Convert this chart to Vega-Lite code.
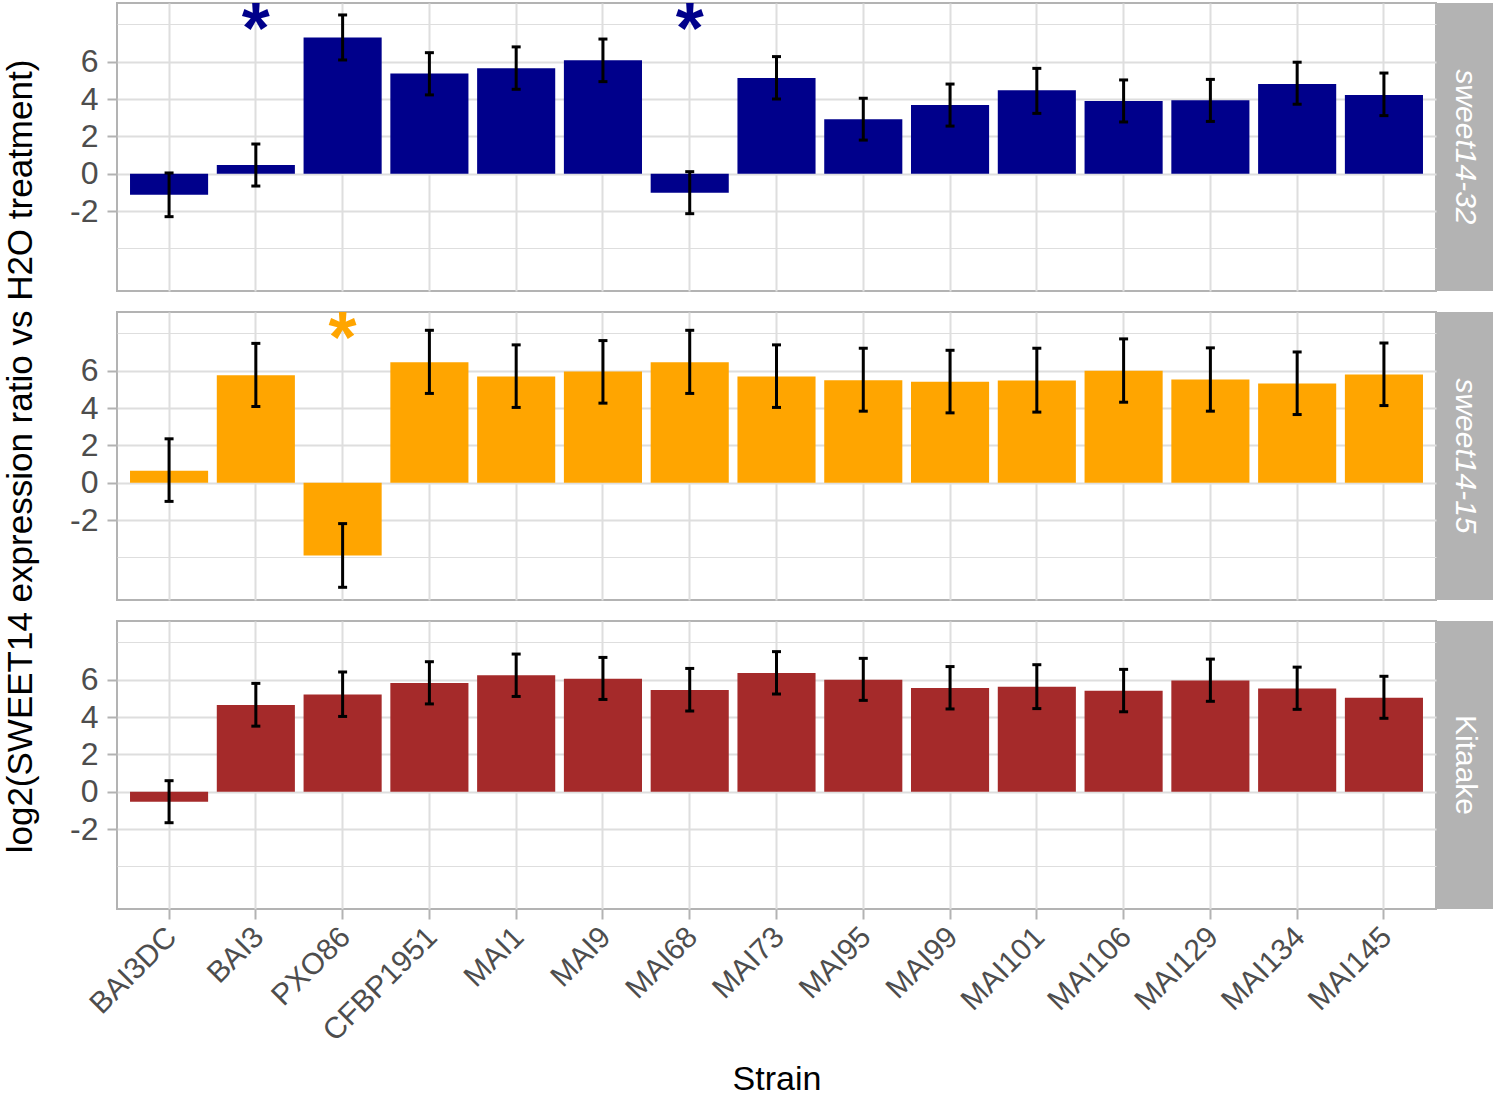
{
  "$schema": "https://vega.github.io/schema/vega-lite/v6.json",
  "padding": {"left": 2, "top": 2, "right": 4, "bottom": 4},
  "background": "white",
  "datasets": {
    "bars": [
      {"line": "sweet14-32", "strain": "BAI3DC", "value": -1.13, "lower": -2.30, "upper": 0.04},
      {"line": "sweet14-32", "strain": "BAI3", "value": 0.46, "lower": -0.66, "upper": 1.59},
      {"line": "sweet14-32", "strain": "PXO86", "value": 7.29, "lower": 6.09, "upper": 8.50},
      {"line": "sweet14-32", "strain": "CFBP1951", "value": 5.36, "lower": 4.22, "upper": 6.48},
      {"line": "sweet14-32", "strain": "MAI1", "value": 5.64, "lower": 4.52, "upper": 6.79},
      {"line": "sweet14-32", "strain": "MAI9", "value": 6.07, "lower": 4.93, "upper": 7.21},
      {"line": "sweet14-32", "strain": "MAI68", "value": -1.02, "lower": -2.14, "upper": 0.11},
      {"line": "sweet14-32", "strain": "MAI73", "value": 5.13, "lower": 4.00, "upper": 6.27},
      {"line": "sweet14-32", "strain": "MAI95", "value": 2.91, "lower": 1.80, "upper": 4.04},
      {"line": "sweet14-32", "strain": "MAI99", "value": 3.68, "lower": 2.55, "upper": 4.80},
      {"line": "sweet14-32", "strain": "MAI101", "value": 4.47, "lower": 3.23, "upper": 5.64},
      {"line": "sweet14-32", "strain": "MAI106", "value": 3.89, "lower": 2.77, "upper": 5.02},
      {"line": "sweet14-32", "strain": "MAI129", "value": 3.93, "lower": 2.80, "upper": 5.05},
      {"line": "sweet14-32", "strain": "MAI134", "value": 4.80, "lower": 3.72, "upper": 5.97},
      {"line": "sweet14-32", "strain": "MAI145", "value": 4.22, "lower": 3.11, "upper": 5.39},
      {"line": "sweet14-15", "strain": "BAI3DC", "value": 0.64, "lower": -1.00, "upper": 2.35},
      {"line": "sweet14-15", "strain": "BAI3", "value": 5.75, "lower": 4.08, "upper": 7.46},
      {"line": "sweet14-15", "strain": "PXO86", "value": -3.90, "lower": -5.60, "upper": -2.19},
      {"line": "sweet14-15", "strain": "CFBP1951", "value": 6.45, "lower": 4.78, "upper": 8.16},
      {"line": "sweet14-15", "strain": "MAI1", "value": 5.68, "lower": 4.03, "upper": 7.38},
      {"line": "sweet14-15", "strain": "MAI9", "value": 5.95, "lower": 4.26, "upper": 7.61},
      {"line": "sweet14-15", "strain": "MAI68", "value": 6.45, "lower": 4.78, "upper": 8.16},
      {"line": "sweet14-15", "strain": "MAI73", "value": 5.68, "lower": 4.03, "upper": 7.38},
      {"line": "sweet14-15", "strain": "MAI95", "value": 5.49, "lower": 3.83, "upper": 7.20},
      {"line": "sweet14-15", "strain": "MAI99", "value": 5.40, "lower": 3.74, "upper": 7.09},
      {"line": "sweet14-15", "strain": "MAI101", "value": 5.47, "lower": 3.78, "upper": 7.20},
      {"line": "sweet14-15", "strain": "MAI106", "value": 6.00, "lower": 4.31, "upper": 7.70},
      {"line": "sweet14-15", "strain": "MAI129", "value": 5.52, "lower": 3.83, "upper": 7.22},
      {"line": "sweet14-15", "strain": "MAI134", "value": 5.31, "lower": 3.65, "upper": 7.00},
      {"line": "sweet14-15", "strain": "MAI145", "value": 5.79, "lower": 4.13, "upper": 7.48},
      {"line": "Kitaake", "strain": "BAI3DC", "value": -0.54, "lower": -1.66, "upper": 0.59},
      {"line": "Kitaake", "strain": "BAI3", "value": 4.64, "lower": 3.51, "upper": 5.80},
      {"line": "Kitaake", "strain": "PXO86", "value": 5.20, "lower": 4.03, "upper": 6.41},
      {"line": "Kitaake", "strain": "CFBP1951", "value": 5.82, "lower": 4.70, "upper": 6.96},
      {"line": "Kitaake", "strain": "MAI1", "value": 6.23, "lower": 5.10, "upper": 7.37},
      {"line": "Kitaake", "strain": "MAI9", "value": 6.05, "lower": 4.94, "upper": 7.19},
      {"line": "Kitaake", "strain": "MAI68", "value": 5.44, "lower": 4.32, "upper": 6.60},
      {"line": "Kitaake", "strain": "MAI73", "value": 6.35, "lower": 5.23, "upper": 7.50},
      {"line": "Kitaake", "strain": "MAI95", "value": 6.00, "lower": 4.89, "upper": 7.14},
      {"line": "Kitaake", "strain": "MAI99", "value": 5.55, "lower": 4.43, "upper": 6.70},
      {"line": "Kitaake", "strain": "MAI101", "value": 5.62, "lower": 4.45, "upper": 6.80},
      {"line": "Kitaake", "strain": "MAI106", "value": 5.41, "lower": 4.28, "upper": 6.55},
      {"line": "Kitaake", "strain": "MAI129", "value": 5.96, "lower": 4.84, "upper": 7.10},
      {"line": "Kitaake", "strain": "MAI134", "value": 5.53, "lower": 4.41, "upper": 6.67},
      {"line": "Kitaake", "strain": "MAI145", "value": 5.03, "lower": 3.93, "upper": 6.18}
    ],
    "stars": [
      {"line": "sweet14-32", "strain": "BAI3", "y": 8.3, "label": "*"},
      {"line": "sweet14-32", "strain": "MAI68", "y": 8.3, "label": "*"},
      {"line": "sweet14-15", "strain": "PXO86", "y": 8.3, "label": "*"}
    ],
    "strips": [
      {"line": "sweet14-32"},
      {"line": "sweet14-15"},
      {"line": "Kitaake"}
    ]
  },
  "config": {
    "font": "Liberation Sans",
    "view": {"stroke": "#B3B3B3", "strokeWidth": 2},
    "axis": {
      "labelFont": "Liberation Sans",
      "titleFont": "Liberation Sans",
      "gridColor": "#DEDEDE",
      "tickColor": "#B3B3B3",
      "labelColor": "#4D4D4D",
      "titleColor": "#000000",
      "titleFontWeight": "normal"
    }
  },
  "columns": 2,
  "align": "each",
  "bounds": "flush",
  "spacing": {"row": 21, "column": 1},
  "concat": [
    {
      "width": 1319, "height": 288,
      "layer": [
        {
          "data": {"name": "bars"},
          "transform": [{"filter": "datum.line === 'sweet14-32'"}],
          "mark": {"type": "bar"},
          "encoding": {
            "x": {"field": "strain", "type": "nominal", "sort": ["BAI3DC","BAI3","PXO86","CFBP1951","MAI1","MAI9","MAI68","MAI73","MAI95","MAI99","MAI101","MAI106","MAI129","MAI134","MAI145"], "scale": {"paddingInner": 0.1, "paddingOuter": 0.15},
                  "axis": {"title": null, "labels": false, "ticks": false, "domain": false, "grid": true, "bandPosition": 0.5, "gridWidth": 2}},
            "y": {"field": "value", "type": "quantitative", "scale": {"domain": [-6.28, 9.14], "nice": false, "zero": false},
                  "axis": {"title": null, "domain": false, "values": [-4,-3,-2,-1,0,1,2,3,4,5,6,7,8],
                           "labelExpr": "(datum.value % 2 === 0 && datum.value >= -2 && datum.value <= 6) ? toString(datum.value) : ''",
                           "labelFontSize": 32, "labelPadding": 9, "tickSize": 10, "tickWidth": 2,
                           "tickOpacity": {"condition": {"test": "datum.value % 2 === 0 && datum.value >= -2 && datum.value <= 6", "value": 1}, "value": 0},
                           "gridWidth": {"condition": {"test": "datum.value % 2 === 0 && datum.value >= -2 && datum.value <= 6", "value": 2}, "value": 1.2}}},
            "color": {"field": "line", "type": "nominal", "scale": {"domain": ["sweet14-32","sweet14-15","Kitaake"], "range": ["#00008B","#FFA500","#A52A2A"]}, "legend": null}
          }
        },
        {
          "data": {"name": "bars"},
          "transform": [{"filter": "datum.line === 'sweet14-32'"}],
          "mark": {"type": "rule", "strokeWidth": 3, "color": "black"},
          "encoding": {
            "x": {"field": "strain", "type": "nominal", "sort": ["BAI3DC","BAI3","PXO86","CFBP1951","MAI1","MAI9","MAI68","MAI73","MAI95","MAI99","MAI101","MAI106","MAI129","MAI134","MAI145"]},
            "y": {"field": "lower", "type": "quantitative", "scale": {"domain": [-6.28, 9.14], "nice": false, "zero": false}},
            "y2": {"field": "upper"}
          }
        },
        {
          "data": {"name": "bars"},
          "transform": [{"filter": "datum.line === 'sweet14-32'"}],
          "mark": {"type": "tick", "size": 9, "thickness": 3, "color": "black", "opacity": 1},
          "encoding": {
            "x": {"field": "strain", "type": "nominal", "sort": ["BAI3DC","BAI3","PXO86","CFBP1951","MAI1","MAI9","MAI68","MAI73","MAI95","MAI99","MAI101","MAI106","MAI129","MAI134","MAI145"]},
            "y": {"field": "lower", "type": "quantitative", "scale": {"domain": [-6.28, 9.14], "nice": false, "zero": false}}
          }
        },
        {
          "data": {"name": "bars"},
          "transform": [{"filter": "datum.line === 'sweet14-32'"}],
          "mark": {"type": "tick", "size": 9, "thickness": 3, "color": "black", "opacity": 1},
          "encoding": {
            "x": {"field": "strain", "type": "nominal", "sort": ["BAI3DC","BAI3","PXO86","CFBP1951","MAI1","MAI9","MAI68","MAI73","MAI95","MAI99","MAI101","MAI106","MAI129","MAI134","MAI145"]},
            "y": {"field": "upper", "type": "quantitative", "scale": {"domain": [-6.28, 9.14], "nice": false, "zero": false}}
          }
        },
        {
          "data": {"name": "stars"},
          "transform": [{"filter": "datum.line === 'sweet14-32'"}],
          "mark": {"type": "text", "fontSize": 72, "fontWeight": "bold", "baseline": "middle", "align": "center", "dy": 12, "clip": true, "font": "Liberation Sans"},
          "encoding": {
            "x": {"field": "strain", "type": "nominal", "sort": ["BAI3DC","BAI3","PXO86","CFBP1951","MAI1","MAI9","MAI68","MAI73","MAI95","MAI99","MAI101","MAI106","MAI129","MAI134","MAI145"]},
            "y": {"field": "y", "type": "quantitative", "scale": {"domain": [-6.28, 9.14], "nice": false, "zero": false}},
            "text": {"field": "label"},
            "color": {"field": "line", "type": "nominal", "scale": {"domain": ["sweet14-32","sweet14-15","Kitaake"], "range": ["#00008B","#FFA500","#A52A2A"]}, "legend": null}
          }
        }
      ]
    },
    {
      "width": 56, "height": 288,
      "view": {"fill": "#B3B3B3", "stroke": null},
      "data": {"name": "strips"},
      "transform": [{"filter": "datum.line === 'sweet14-32'"}],
      "mark": {"type": "text", "angle": 90, "fontSize": 30, "fontStyle": "italic", "color": "white", "align": "center", "baseline": "middle", "font": "Liberation Sans"},
      "encoding": {"text": {"field": "line"}}
    },
    {
      "width": 1319, "height": 288,
      "layer": [
        {
          "data": {"name": "bars"},
          "transform": [{"filter": "datum.line === 'sweet14-15'"}],
          "mark": {"type": "bar"},
          "encoding": {
            "x": {"field": "strain", "type": "nominal", "sort": ["BAI3DC","BAI3","PXO86","CFBP1951","MAI1","MAI9","MAI68","MAI73","MAI95","MAI99","MAI101","MAI106","MAI129","MAI134","MAI145"], "scale": {"paddingInner": 0.1, "paddingOuter": 0.15},
                  "axis": {"title": null, "labels": false, "ticks": false, "domain": false, "grid": true, "bandPosition": 0.5, "gridWidth": 2}},
            "y": {"field": "value", "type": "quantitative", "scale": {"domain": [-6.28, 9.14], "nice": false, "zero": false},
                  "axis": {"title": "log2(SWEET14 expression ratio vs H2O treatment)", "titleFontSize": 35, "titlePadding": 31,
                           "domain": false, "values": [-4,-3,-2,-1,0,1,2,3,4,5,6,7,8],
                           "labelExpr": "(datum.value % 2 === 0 && datum.value >= -2 && datum.value <= 6) ? toString(datum.value) : ''",
                           "labelFontSize": 32, "labelPadding": 9, "tickSize": 10, "tickWidth": 2,
                           "tickOpacity": {"condition": {"test": "datum.value % 2 === 0 && datum.value >= -2 && datum.value <= 6", "value": 1}, "value": 0},
                           "gridWidth": {"condition": {"test": "datum.value % 2 === 0 && datum.value >= -2 && datum.value <= 6", "value": 2}, "value": 1.2}}},
            "color": {"field": "line", "type": "nominal", "scale": {"domain": ["sweet14-32","sweet14-15","Kitaake"], "range": ["#00008B","#FFA500","#A52A2A"]}, "legend": null}
          }
        },
        {
          "data": {"name": "bars"},
          "transform": [{"filter": "datum.line === 'sweet14-15'"}],
          "mark": {"type": "rule", "strokeWidth": 3, "color": "black"},
          "encoding": {
            "x": {"field": "strain", "type": "nominal", "sort": ["BAI3DC","BAI3","PXO86","CFBP1951","MAI1","MAI9","MAI68","MAI73","MAI95","MAI99","MAI101","MAI106","MAI129","MAI134","MAI145"]},
            "y": {"field": "lower", "type": "quantitative", "scale": {"domain": [-6.28, 9.14], "nice": false, "zero": false}},
            "y2": {"field": "upper"}
          }
        },
        {
          "data": {"name": "bars"},
          "transform": [{"filter": "datum.line === 'sweet14-15'"}],
          "mark": {"type": "tick", "size": 9, "thickness": 3, "color": "black", "opacity": 1},
          "encoding": {
            "x": {"field": "strain", "type": "nominal", "sort": ["BAI3DC","BAI3","PXO86","CFBP1951","MAI1","MAI9","MAI68","MAI73","MAI95","MAI99","MAI101","MAI106","MAI129","MAI134","MAI145"]},
            "y": {"field": "lower", "type": "quantitative", "scale": {"domain": [-6.28, 9.14], "nice": false, "zero": false}}
          }
        },
        {
          "data": {"name": "bars"},
          "transform": [{"filter": "datum.line === 'sweet14-15'"}],
          "mark": {"type": "tick", "size": 9, "thickness": 3, "color": "black", "opacity": 1},
          "encoding": {
            "x": {"field": "strain", "type": "nominal", "sort": ["BAI3DC","BAI3","PXO86","CFBP1951","MAI1","MAI9","MAI68","MAI73","MAI95","MAI99","MAI101","MAI106","MAI129","MAI134","MAI145"]},
            "y": {"field": "upper", "type": "quantitative", "scale": {"domain": [-6.28, 9.14], "nice": false, "zero": false}}
          }
        },
        {
          "data": {"name": "stars"},
          "transform": [{"filter": "datum.line === 'sweet14-15'"}],
          "mark": {"type": "text", "fontSize": 72, "fontWeight": "bold", "baseline": "middle", "align": "center", "dy": 12, "clip": true, "font": "Liberation Sans"},
          "encoding": {
            "x": {"field": "strain", "type": "nominal", "sort": ["BAI3DC","BAI3","PXO86","CFBP1951","MAI1","MAI9","MAI68","MAI73","MAI95","MAI99","MAI101","MAI106","MAI129","MAI134","MAI145"]},
            "y": {"field": "y", "type": "quantitative", "scale": {"domain": [-6.28, 9.14], "nice": false, "zero": false}},
            "text": {"field": "label"},
            "color": {"field": "line", "type": "nominal", "scale": {"domain": ["sweet14-32","sweet14-15","Kitaake"], "range": ["#00008B","#FFA500","#A52A2A"]}, "legend": null}
          }
        }
      ]
    },
    {
      "width": 56, "height": 288,
      "view": {"fill": "#B3B3B3", "stroke": null},
      "data": {"name": "strips"},
      "transform": [{"filter": "datum.line === 'sweet14-15'"}],
      "mark": {"type": "text", "angle": 90, "fontSize": 30, "fontStyle": "italic", "color": "white", "align": "center", "baseline": "middle", "font": "Liberation Sans"},
      "encoding": {"text": {"field": "line"}}
    },
    {
      "width": 1319, "height": 288,
      "layer": [
        {
          "data": {"name": "bars"},
          "transform": [{"filter": "datum.line === 'Kitaake'"}],
          "mark": {"type": "bar"},
          "encoding": {
            "x": {"field": "strain", "type": "nominal", "sort": ["BAI3DC","BAI3","PXO86","CFBP1951","MAI1","MAI9","MAI68","MAI73","MAI95","MAI99","MAI101","MAI106","MAI129","MAI134","MAI145"], "scale": {"paddingInner": 0.1, "paddingOuter": 0.15},
                  "axis": {"title": "Strain", "titleFontSize": 34, "titlePadding": 16, "domain": false, "grid": true, "bandPosition": 0.5, "gridWidth": 2,
                           "labelAngle": -45, "labelAlign": "right", "labelBaseline": "middle", "labelFontSize": 30, "labelPadding": 13, "labelOffset": 3,
                           "tickSize": 10, "tickWidth": 2}},
            "y": {"field": "value", "type": "quantitative", "scale": {"domain": [-6.28, 9.14], "nice": false, "zero": false},
                  "axis": {"title": null, "domain": false, "values": [-4,-3,-2,-1,0,1,2,3,4,5,6,7,8],
                           "labelExpr": "(datum.value % 2 === 0 && datum.value >= -2 && datum.value <= 6) ? toString(datum.value) : ''",
                           "labelFontSize": 32, "labelPadding": 9, "tickSize": 10, "tickWidth": 2,
                           "tickOpacity": {"condition": {"test": "datum.value % 2 === 0 && datum.value >= -2 && datum.value <= 6", "value": 1}, "value": 0},
                           "gridWidth": {"condition": {"test": "datum.value % 2 === 0 && datum.value >= -2 && datum.value <= 6", "value": 2}, "value": 1.2}}},
            "color": {"field": "line", "type": "nominal", "scale": {"domain": ["sweet14-32","sweet14-15","Kitaake"], "range": ["#00008B","#FFA500","#A52A2A"]}, "legend": null}
          }
        },
        {
          "data": {"name": "bars"},
          "transform": [{"filter": "datum.line === 'Kitaake'"}],
          "mark": {"type": "rule", "strokeWidth": 3, "color": "black"},
          "encoding": {
            "x": {"field": "strain", "type": "nominal", "sort": ["BAI3DC","BAI3","PXO86","CFBP1951","MAI1","MAI9","MAI68","MAI73","MAI95","MAI99","MAI101","MAI106","MAI129","MAI134","MAI145"]},
            "y": {"field": "lower", "type": "quantitative", "scale": {"domain": [-6.28, 9.14], "nice": false, "zero": false}},
            "y2": {"field": "upper"}
          }
        },
        {
          "data": {"name": "bars"},
          "transform": [{"filter": "datum.line === 'Kitaake'"}],
          "mark": {"type": "tick", "size": 9, "thickness": 3, "color": "black", "opacity": 1},
          "encoding": {
            "x": {"field": "strain", "type": "nominal", "sort": ["BAI3DC","BAI3","PXO86","CFBP1951","MAI1","MAI9","MAI68","MAI73","MAI95","MAI99","MAI101","MAI106","MAI129","MAI134","MAI145"]},
            "y": {"field": "lower", "type": "quantitative", "scale": {"domain": [-6.28, 9.14], "nice": false, "zero": false}}
          }
        },
        {
          "data": {"name": "bars"},
          "transform": [{"filter": "datum.line === 'Kitaake'"}],
          "mark": {"type": "tick", "size": 9, "thickness": 3, "color": "black", "opacity": 1},
          "encoding": {
            "x": {"field": "strain", "type": "nominal", "sort": ["BAI3DC","BAI3","PXO86","CFBP1951","MAI1","MAI9","MAI68","MAI73","MAI95","MAI99","MAI101","MAI106","MAI129","MAI134","MAI145"]},
            "y": {"field": "upper", "type": "quantitative", "scale": {"domain": [-6.28, 9.14], "nice": false, "zero": false}}
          }
        }
      ]
    },
    {
      "width": 56, "height": 288,
      "view": {"fill": "#B3B3B3", "stroke": null},
      "data": {"name": "strips"},
      "transform": [{"filter": "datum.line === 'Kitaake'"}],
      "mark": {"type": "text", "angle": 90, "fontSize": 30, "fontStyle": "normal", "color": "white", "align": "center", "baseline": "middle", "font": "Liberation Sans"},
      "encoding": {"text": {"field": "line"}}
    }
  ]
}
